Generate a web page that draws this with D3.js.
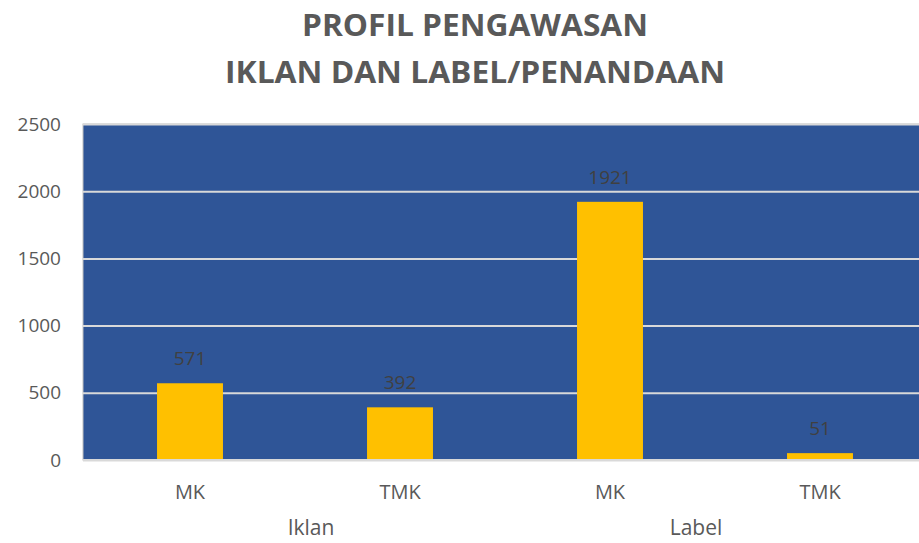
<!DOCTYPE html>
<html>
<head>
<meta charset="utf-8">
<script src="https://cdn.jsdelivr.net/npm/d3@7"></script>
<style>
  body { margin: 0; background: #ffffff; }
  text { font-family: "Open Sans", "DejaVu Sans", sans-serif; }
</style>
</head>
<body>
<div id="graphic"></div>
<script>
var categories = ["MK", "TMK", "MK", "TMK"],
    groups = ["Iklan", "Iklan", "Label", "Label"],
    groupNames = ["Iklan", "Label"],
    values = [571, 392, 1921, 51],
    yTicks = [0, 500, 1000, 1500, 2000, 2500],
    titleLines = ["PROFIL PENGAWASAN", "IKLAN DAN LABEL/PENANDAAN"];

var width = 919,
    height = 543;

var margin = {
    top: 124,
    right: -4,
    bottom: 83,
    left: 83
};

var plotW = width - margin.left - margin.right,
    plotH = height - margin.top - margin.bottom;

var svg = d3.select("#graphic").append("svg")
    .attr("width", width)
    .attr("height", height);

// title
svg.selectAll("text.title")
    .data(titleLines)
    .enter().append("text")
    .attr("class", "title")
    .attr("x", 475)
    .attr("y", function (d, i) { return 36 + i * 47; })
    .attr("text-anchor", "middle")
    .attr("fill", "#595959")
    .attr("font-weight", "bold")
    .attr("font-size", "30px")
    .attr("textLength", function (d, i) { return i === 0 ? 346 : 500; })
    .attr("lengthAdjust", "spacingAndGlyphs")
    .text(function (d) { return d; });

var g = svg.append("g")
    .attr("transform", "translate(" + margin.left + "," + margin.top + ")");

var x = d3.scaleBand()
    .domain(d3.range(values.length))
    .range([2, plotW + 2])
    .paddingInner(0.686)
    .paddingOuter(0.343);

var y = d3.scaleLinear()
    .domain([0, 2500])
    .range([plotH, 0]);

// plot background
g.append("rect")
    .attr("x", 0)
    .attr("y", 0)
    .attr("width", plotW)
    .attr("height", plotH)
    .attr("fill", "#2F5597")
    .attr("stroke", "#BFBFBF")
    .attr("stroke-width", 1);

// gridlines
g.append("g")
    .attr("class", "grid")
    .call(d3.axisLeft(y).tickValues(yTicks).tickSize(-plotW).tickFormat(""))
    .call(function (s) {
        s.select(".domain").remove();
        s.selectAll("line").attr("stroke", "#D9D9D9").attr("stroke-width", 2);
    });

// y axis labels
g.append("g")
    .call(d3.axisLeft(y).tickValues(yTicks).tickSize(0).tickPadding(22).tickFormat(d3.format("d")))
    .call(function (s) {
        s.select(".domain").remove();
        s.selectAll("text")
            .attr("fill", "#595959")
            .attr("font-size", "19px")
            .attr("font-family", "Open Sans, sans-serif");
    });

// bars
g.selectAll("rect.bar")
    .data(values)
    .enter().append("rect")
    .attr("class", "bar")
    .attr("x", function (d, i) { return x(i); })
    .attr("y", function (d) { return y(d); })
    .attr("width", x.bandwidth())
    .attr("height", function (d) { return plotH - y(d); })
    .attr("fill", "#FFC000");

// value labels
g.selectAll("text.val")
    .data(values)
    .enter().append("text")
    .attr("class", "val")
    .attr("x", function (d, i) { return x(i) + x.bandwidth() / 2; })
    .attr("y", function (d) { return y(d) - 18; })
    .attr("text-anchor", "middle")
    .attr("fill", "#404040")
    .attr("font-size", "19px")
    .text(function (d) { return d; });

// bottom axis line
g.append("line")
    .attr("x1", 0)
    .attr("x2", plotW)
    .attr("y1", plotH)
    .attr("y2", plotH)
    .attr("stroke", "#D9D9D9")
    .attr("stroke-width", 2);

// category labels
g.selectAll("text.cat")
    .data(categories)
    .enter().append("text")
    .attr("class", "cat")
    .attr("x", function (d, i) { return x(i) + x.bandwidth() / 2; })
    .attr("y", plotH + 39)
    .attr("text-anchor", "middle")
    .attr("fill", "#595959")
    .attr("font-size", "20px")
    .text(function (d) { return d; });

// group labels
g.selectAll("text.grp")
    .data(groupNames)
    .enter().append("text")
    .attr("class", "grp")
    .attr("x", function (name, k) {
        var idx = d3.range(groups.length).filter(function (i) { return groups[i] === name; });
        var c = d3.mean(idx, function (i) { return x(i) + x.bandwidth() / 2; });
        return c + (k === 0 ? 16 : -19);
    })
    .attr("y", plotH + 75)
    .attr("text-anchor", "middle")
    .attr("fill", "#595959")
    .attr("font-size", "21px")
    .text(function (d) { return d; });
</script>
</body>
</html>
